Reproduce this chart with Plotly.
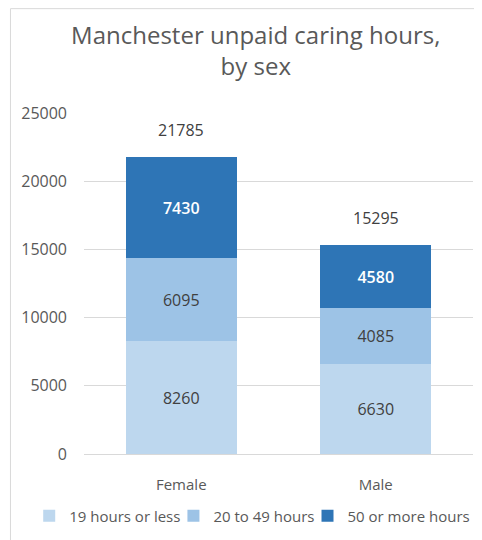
import plotly.graph_objects as go

categories = ["Female", "Male"]
series_names = ["19 hours or less", "20 to 49 hours", "50 or more hours"]
hours_19_or_less = [8260, 6630]
hours_20_to_49 = [6095, 4085]
hours_50_or_more = [7430, 4580]
totals = [21785, 15295]
y_ticks = [0, 5000, 10000, 15000, 20000, 25000]

colors = ["#BDD7EE", "#9DC3E6", "#2E75B6"]
text_colors = ["#404040", "#404040", "#FFFFFF"]
FONT = "Open Sans"
GREY = "#595959"

fig = go.Figure()
for name, vals, c, tc in zip(series_names,
                             [hours_19_or_less, hours_20_to_49, hours_50_or_more],
                             colors, text_colors):
    fig.add_trace(go.Bar(
        x=categories, y=vals, name=name,
        marker=dict(color=c, line=dict(width=0)),
        text=[str(v) for v in vals],
        textposition="inside", insidetextanchor="middle",
        textfont=dict(family=FONT, size=16, color=tc,
                      weight=600 if tc == "#FFFFFF" else 400),
        constraintext="none",
        hoverinfo="skip",
    ))

annotations = [dict(x=cat, y=tot, xref="x", yref="y", text=str(tot),
                    showarrow=False, yanchor="bottom", yshift=14,
                    font=dict(family=FONT, size=16, color="#404040"))
               for cat, tot in zip(categories, totals)]

fig.update_layout(
    width=482, height=540,
    margin=dict(l=76, r=17, t=105, b=94, autoexpand=False),
    barmode="stack", bargap=0.43,
    paper_bgcolor="white", plot_bgcolor="white",
    font=dict(family=FONT, color=GREY),
    title=dict(text="Manchester unpaid caring hours,<br>by sex",
               x=0.514, xanchor="center", xref="container",
               y=0.933, yanchor="top", yref="container",
               font=dict(family=FONT, size=24, color=GREY)),
    legend=dict(orientation="h", xref="paper", yref="paper",
                x=-0.11, xanchor="left", y=-0.182, yanchor="middle",
                bgcolor="rgba(0,0,0,0)",
                font=dict(family=FONT, size=15, color=GREY),
                itemwidth=30, indentation=-12, traceorder="normal"),
    xaxis=dict(showgrid=False, showline=False, ticks="", ticklabelstandoff=20,
               tickfont=dict(family=FONT, size=15, color=GREY)),
    yaxis=dict(range=[0, 25000], tickvals=y_ticks, tickformat="d",
               showgrid=True, gridcolor="#D9D9D9", gridwidth=1,
               zeroline=True, zerolinecolor="#D9D9D9", zerolinewidth=1,
               showline=False, ticks="", ticklabelstandoff=16,
               tickfont=dict(family=FONT, size=16, color=GREY)),
    annotations=annotations,
    shapes=[dict(type="rect", xref="paper", yref="paper",
                 x0=-0.189, x1=1.2, y0=-0.5, y1=1.306,
                 line=dict(color="#D9D9D9", width=1), layer="below")],
)

fig.write_html("out.html")
